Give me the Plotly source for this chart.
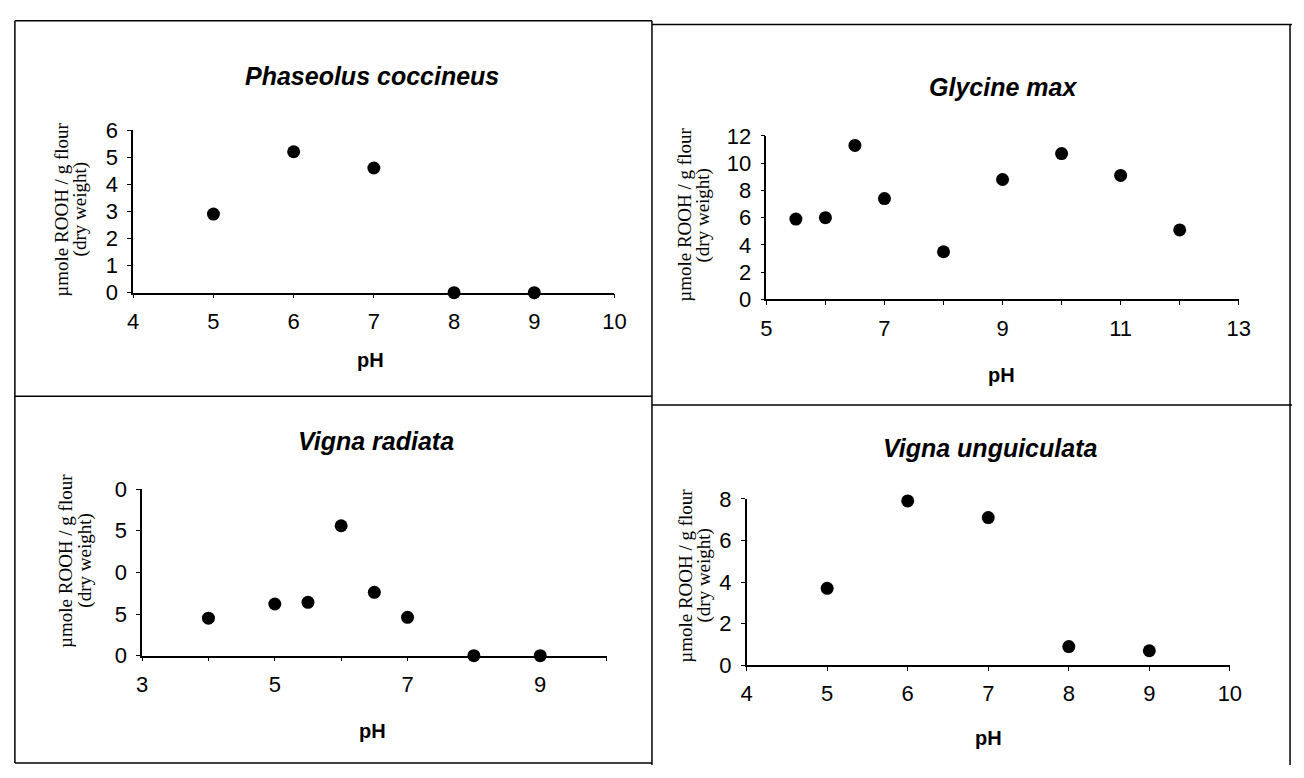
import plotly.graph_objects as go

W, H = 1304, 778

# ---- data ----
ph_pc = [5, 6, 7, 8, 9]
rooh_pc = [2.9, 5.2, 4.6, 0, 0]

ph_gm = [5.5, 6, 6.5, 7, 8, 9, 10, 11, 12]
rooh_gm = [5.9, 6.0, 11.3, 7.4, 3.5, 8.8, 10.7, 9.1, 5.1]

ph_vr = [4, 5, 5.5, 6, 6.5, 7, 8, 9]
rooh_vr = [4.5, 6.2, 6.4, 15.6, 7.6, 4.6, 0, 0]

ph_vu = [5, 6, 7, 8, 9]
rooh_vu = [3.7, 7.9, 7.1, 0.9, 0.7]

titles = ["Phaseolus coccineus", "Glycine max", "Vigna radiata", "Vigna unguiculata"]
ytitle_lines = ["µmole ROOH / g flour", "(dry weight)"]
xtitle = "pH"

xranges = [[4, 10], [5, 13], [3, 10], [4, 10]]
yranges = [[0, 6], [0, 12], [0, 20], [0, 8]]
xdticks = [1, 2, 2, 1]
x0ticks = [4, 5, 3, 4]
ytickvals = [[0, 1, 2, 3, 4, 5, 6], [0, 2, 4, 6, 8, 10, 12], [0, 5, 10, 15, 20], [0, 2, 4, 6, 8]]
yticktext = [["0", "1", "2", "3", "4", "5", "6"], ["0", "2", "4", "6", "8", "10", "12"],
             ["0", "5", "0", "5", "0"], ["0", "2", "4", "6", "8"]]

series = [(ph_pc, rooh_pc), (ph_gm, rooh_gm), (ph_vr, rooh_vr), (ph_vu, rooh_vu)]

# ---- layout geometry (pixels) ----
# plot box: x-left, x-right, y-top, y-bottom
boxes = [(129, 617, 122, 290), (771, 1250, 128, 297), (138, 609, 493, 665), (751, 1241, 503, 675)]
title_pos = [(371, 66), (1011, 77), (375, 443), (998, 450)]
ytitle_x = [(56, 75), (688, 707), (61, 80), (689, 708)]
ytitle_y = [204, 210, 567, 582]
xtitle_pos = [(370, 360), (1009, 375), (372, 743), (996, 750)]

def px(x):
    return x / W

def py(y):
    return 1 - y / H

fig = go.Figure()
annotations = []
for i, ((xs, ys), box) in enumerate(zip(series, boxes)):
    n = "" if i == 0 else str(i + 1)
    fig.add_trace(go.Scatter(
        x=xs, y=ys, mode="markers", xaxis="x" + n, yaxis="y" + n,
        marker=dict(color="black", size=13), cliponaxis=False, showlegend=False,
    ))
    xl, xr, yt, yb = box
    axis_common = dict(showline=True, linecolor="black", linewidth=1.5, ticks="outside",
                       ticklen=4, tickcolor="black", showgrid=False, zeroline=False,
                       tickfont=dict(family="Liberation Sans, Arial", size=22, color="black"))
    fig.layout["xaxis" + n] = dict(
        domain=[px(xl), px(xr)], range=xranges[i], anchor="y" + n,
        tick0=x0ticks[i], dtick=xdticks[i], ticklabelstandoff=4,
        minor=dict(dtick=1, ticks="outside", ticklen=4, tickcolor="black") if xdticks[i] == 2 else None,
        **axis_common)
    fig.layout["yaxis" + n] = dict(
        domain=[py(yb), py(yt)], range=yranges[i], anchor="x" + n,
        tickvals=ytickvals[i], ticktext=yticktext[i], ticklabelstandoff=5,
        **axis_common)
    tx, ty = title_pos[i]
    annotations.append(dict(x=px(tx), y=py(ty), xref="paper", yref="paper", text="<b><i>" + titles[i] + "</i></b>",
                            showarrow=False, xanchor="center", yanchor="middle",
                            font=dict(family="Liberation Sans, Arial", size=25, color="black")))
    for k, txt in enumerate(ytitle_lines):
        annotations.append(dict(x=px(ytitle_x[i][k]), y=py(ytitle_y[i]), xref="paper", yref="paper",
                                text=txt, textangle=-90, showarrow=False, xanchor="center", yanchor="middle",
                                font=dict(family="Liberation Serif, Times New Roman", size=19, color="black")))
    bx, by = xtitle_pos[i]
    annotations.append(dict(x=px(bx), y=py(by), xref="paper", yref="paper", text="<b>" + xtitle + "</b>",
                            showarrow=False, xanchor="center", yanchor="middle",
                            font=dict(family="Liberation Sans, Arial", size=20, color="black")))

# panel frame lines
line = dict(color="black", width=1.5)
shapes = [
    dict(type="line", xref="paper", yref="paper", x0=px(9), x1=px(655), y0=py(9), y1=py(9), line=line),
    dict(type="line", xref="paper", yref="paper", x0=px(655), x1=px(1304), y0=py(13), y1=py(13), line=line),
    dict(type="line", xref="paper", yref="paper", x0=px(9), x1=px(9), y0=py(9), y1=py(776), line=line),
    dict(type="line", xref="paper", yref="paper", x0=px(655), x1=px(655), y0=py(9), y1=py(778), line=line),
    dict(type="line", xref="paper", yref="paper", x0=px(1302), x1=px(1302), y0=py(13), y1=py(778), line=line),
    dict(type="line", xref="paper", yref="paper", x0=px(9), x1=px(655), y0=py(397), y1=py(397), line=line),
    dict(type="line", xref="paper", yref="paper", x0=px(655), x1=px(1304), y0=py(406), y1=py(406), line=line),
    dict(type="line", xref="paper", yref="paper", x0=px(9), x1=px(655), y0=py(776), y1=py(776), line=line),
]

fig.update_layout(
    width=W, height=H, margin=dict(l=0, r=0, t=0, b=0),
    paper_bgcolor="white", plot_bgcolor="white",
    annotations=annotations, shapes=shapes, showlegend=False,
)
fig.write_html("out.html", config={"displayModeBar": False},
               post_script="document.body.style.margin='0';document.body.style.overflow='hidden';")
